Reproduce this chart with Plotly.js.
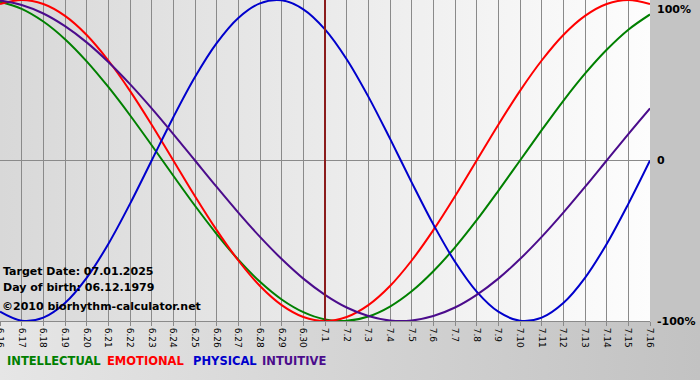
<!DOCTYPE html>
<html>
<head>
<meta charset="utf-8">
<script src="https://cdn.plot.ly/plotly-3.0.1.min.js"></script>
<style>
html,body{margin:0;padding:0;}
#wrap{position:relative;width:700px;height:380px;background:#c4c4c4;overflow:hidden;}
#plotbg{position:absolute;left:0;top:0;width:650px;height:321px;background:linear-gradient(to right,#d8d8d8,#fdfdfd);}
#botbg{position:absolute;left:0;top:321px;width:700px;height:59px;background:linear-gradient(to right,#e6e6e6,#c2c2c2);}
#chart{position:absolute;left:0;top:0;width:700px;height:380px;}
</style>
</head>
<body>
<div id="wrap"><div id="plotbg"></div><div id="botbg"></div><div id="chart"></div></div>
<script>
const dates = ["6.16","6.17","6.18","6.19","6.20","6.21","6.22","6.23","6.24","6.25","6.26","6.27","6.28","6.29","6.30",
  "7.1","7.2","7.3","7.4","7.5","7.6","7.7","7.8","7.9","7.10","7.11","7.12","7.13","7.14","7.15","7.16"];
const intellectual = [99.0,94.5,86.6,75.6,61.8,45.8,28.2,9.5,-9.5,-28.2,-45.8,-61.8,-75.6,-86.6,-94.5,
  -99.0,-99.9,-97.2,-91.0,-81.5,-69.0,-54.1,-37.2,-18.9,0,18.9,37.2,54.1,69.0,81.5,91.0];
const emotional = [97.5,100,97.5,90.1,78.2,62.3,43.4,22.3,0,-22.3,-43.4,-62.3,-78.2,-90.1,-97.5,
  -100,-97.5,-90.1,-78.2,-62.3,-43.4,-22.3,0,22.3,43.4,62.3,78.2,90.1,97.5,100,97.5];
const physical = [-94.2,-99.8,-97.9,-88.8,-73.1,-52.0,-27.0,0,27.0,52.0,73.1,88.8,97.9,99.8,94.2,
  81.7,63.1,39.8,13.6,-13.6,-39.8,-63.1,-81.7,-94.2,-99.8,-97.9,-88.8,-73.1,-52.0,-27.0,0];
const intuitive = [99.7,96.9,91.6,83.7,73.6,61.4,47.6,32.5,16.5,0,-16.5,-32.5,-47.6,-61.4,-73.6,
  -83.7,-91.6,-96.9,-99.7,-99.7,-96.9,-91.6,-83.7,-73.6,-61.4,-47.6,-32.5,-16.5,0,16.5,32.5];
const targetDay = "7.1";
const yLabels = ["100%","0","-100%"];
const yLabelVals = [100,0,-100];
const seriesNames = ["INTELLECTUAL","EMOTIONAL","PHYSICAL","INTUITIVE"];
const seriesColors = ["#008000","#ff0000","#0000cc","#4b0c8c"];
const seriesData = [intellectual, emotional, physical, intuitive];

const traces = seriesData.map((d,i)=>({
  x: dates, y: d, type:'scatter', mode:'lines', name: seriesNames[i],
  line:{color:seriesColors[i], width:2, shape:'spline', smoothing:1},
  hoverinfo:'skip'
}));

const annotations = [];
const yPos = [{y:1, yanchor:'top', yshift:-1},{y:0.5, yanchor:'middle', yshift:0},{y:0, yanchor:'middle', yshift:0}];
yLabels.forEach((t,i)=>{
  annotations.push({xref:'paper', yref:'paper', x:1, y:yPos[i].y, xanchor:'left', yanchor:yPos[i].yanchor,
    xshift:5, yshift:yPos[i].yshift, text:'<b>'+t+'</b>', showarrow:false,
    font:{family:'Verdana, DejaVu Sans', size:11, color:'#000'}});
});
const infoTexts = ["Target Date: 07.01.2025","Day of birth: 06.12.1979"];
const infoY = [271, 287];
infoTexts.forEach((t,i)=>{
  annotations.push({xref:'paper', yref:'paper', x:0, y:1-(infoY[i]/321), xanchor:'left', yanchor:'middle',
    xshift:1, text:'<b>'+t+'</b>', showarrow:false,
    font:{family:'Verdana, DejaVu Sans', size:11, color:'#000'}});
});
annotations.push({xref:'paper', yref:'paper', x:0, y:1-(306/321), xanchor:'left', yanchor:'middle',
  xshift:0, text:'<b>©2010 biorhythm-calculator.net</b>', showarrow:false,
  font:{family:'Verdana, DejaVu Sans', size:11, color:'#000'}});
const legendX = [5,105,191,260];
seriesNames.forEach((n,i)=>{
  annotations.push({xref:'paper', yref:'paper', x:legendX[i]/650, y:1-(361/321), xanchor:'left', yanchor:'middle',
    text:'<b>'+n+'</b>', showarrow:false,
    font:{family:'Verdana, DejaVu Sans', size:11.5, color:seriesColors[i]}});
});

const layout = {
  width:700, height:380,
  margin:{l:0, r:50, t:0, b:59, pad:0},
  paper_bgcolor:'rgba(0,0,0,0)', plot_bgcolor:'rgba(0,0,0,0)',
  showlegend:false,
  xaxis:{type:'category', categoryorder:'array', categoryarray:dates, range:[0,30],
    showgrid:true, gridcolor:'#8a8a8a', gridwidth:1,
    showline:true, linecolor:'#8a8a8a', linewidth:1,
    ticks:'outside', ticklen:4, tickcolor:'#8a8a8a', tickangle:90,
    tickfont:{family:'Verdana, DejaVu Sans', size:9, color:'#000'}, fixedrange:true},
  yaxis:{range:[-100,100], showgrid:false, zeroline:true, zerolinecolor:'#8a8a8a', zerolinewidth:1,
    showticklabels:false, ticks:'', tickvals:yLabelVals, fixedrange:true},
  shapes:[{type:'line', xref:'x', yref:'paper', x0:dates.indexOf(targetDay), x1:dates.indexOf(targetDay), y0:0, y1:1,
    line:{color:'#8b1c1c', width:2}, layer:'above'}],
  annotations: annotations
};
Plotly.newPlot('chart', traces, layout, {displayModeBar:false, staticPlot:true});
</script>
</body>
</html>
